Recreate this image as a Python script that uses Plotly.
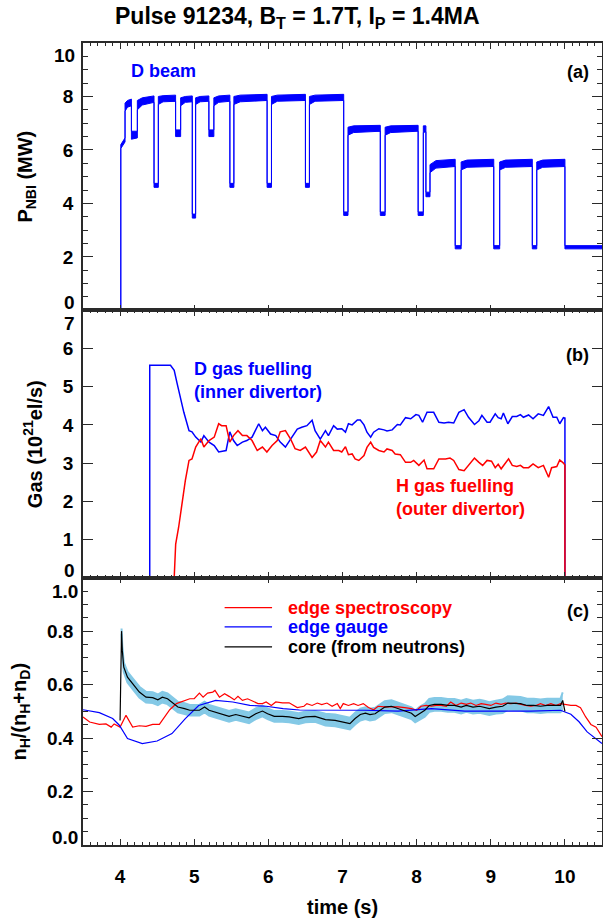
import plotly.graph_objects as go
from plotly.subplots import make_subplots

# ---------------- data ----------------
# Panel (a): D beam power (MW); fast ripple shown as lower/upper envelope
t_beam = [3.5, 4.01, 4.01, 4.06, 4.067, 4.067, 4.10, 4.153, 4.153, 4.233,
          4.233, 4.30, 4.458, 4.458, 4.516, 4.516, 4.58, 4.749, 4.749, 4.817,
          4.817, 4.88, 4.974, 4.974, 5.019, 5.019, 5.08, 5.198, 5.198, 5.265,
          5.265, 5.33, 5.481, 5.481, 5.535, 5.535, 5.62, 5.983, 5.983, 6.042,
          6.042, 6.12, 6.50, 6.50, 6.554, 6.554, 6.63, 7.016, 7.016, 7.074,
          7.074, 7.15, 7.51, 7.51, 7.575, 7.575, 7.65, 8.02, 8.02, 8.09,
          8.09, 8.125, 8.125, 8.18, 8.18, 8.26, 8.52, 8.52, 8.60, 8.60,
          8.68, 9.04, 9.04, 9.12, 9.12, 9.20, 9.56, 9.56, 9.62, 9.62,
          9.70, 10.0, 10.0, 10.5]
beam_lo = [0, 0, 6.05, 6.25, 6.30, 7.45, 7.60, 7.65, 6.40, 6.45,
           7.50, 7.68, 7.78, 4.60, 4.60, 7.70, 7.80, 7.82, 6.50, 6.50,
           7.65, 7.78, 7.80, 3.45, 3.45, 7.70, 7.80, 7.82, 6.50, 6.50,
           7.65, 7.78, 7.82, 4.60, 4.60, 7.70, 7.80, 7.85, 4.60, 4.60,
           7.70, 7.82, 7.85, 4.60, 4.60, 7.70, 7.82, 7.85, 3.55, 3.55,
           6.55, 6.65, 6.70, 3.55, 3.55, 6.55, 6.65, 6.70, 3.55, 3.55,
           6.65, 6.68, 4.25, 4.25, 5.15, 5.32, 5.38, 2.30, 2.30, 5.25,
           5.35, 5.38, 2.30, 2.30, 5.25, 5.35, 5.38, 2.30, 2.30, 5.25,
           5.35, 5.38, 2.30, 2.30]
beam_hi = [0, 0, 6.20, 6.45, 6.45, 7.75, 7.85, 7.90, 6.70, 6.70,
           7.85, 7.95, 8.02, 4.75, 4.75, 8.00, 8.03, 8.05, 6.75, 6.75,
           7.95, 8.00, 8.02, 3.60, 3.60, 7.95, 8.00, 8.02, 6.75, 6.75,
           7.95, 8.02, 8.05, 4.75, 4.75, 8.00, 8.05, 8.08, 4.75, 4.75,
           8.00, 8.05, 8.08, 4.75, 4.75, 8.00, 8.05, 8.08, 3.68, 3.68,
           6.85, 6.90, 6.92, 3.68, 3.68, 6.85, 6.90, 6.92, 3.68, 3.68,
           6.90, 6.90, 4.42, 4.42, 5.45, 5.60, 5.65, 2.42, 2.42, 5.55,
           5.62, 5.65, 2.42, 2.42, 5.55, 5.62, 5.65, 2.42, 2.42, 5.55,
           5.62, 5.65, 2.42, 2.42]

# Panel (b): gas fuelling (1e21 el/s)
t_gasD = [4.40, 4.40, 4.68, 4.73, 4.77, 4.82, 4.86, 4.93, 4.97, 5.02,
          5.09, 5.13, 5.20, 5.27, 5.33, 5.43, 5.48, 5.53, 5.58, 5.65,
          5.71, 5.78, 5.87, 5.92, 5.96, 6.03, 6.10, 6.16, 6.23, 6.30,
          6.39, 6.45, 6.52, 6.59, 6.63, 6.70, 6.77, 6.81, 6.88, 6.93,
          6.99, 7.04, 7.08, 7.13, 7.20, 7.24, 7.29, 7.33, 7.38, 7.42,
          7.49, 7.56, 7.60, 7.67, 7.74, 7.78, 7.85, 7.92, 7.99, 8.03,
          8.08, 8.14, 8.23, 8.30, 8.37, 8.43, 8.50, 8.57, 8.64, 8.70,
          8.78, 8.84, 8.88, 8.95, 8.99, 9.06, 9.10, 9.14, 9.17, 9.23,
          9.29, 9.35, 9.40, 9.44, 9.51, 9.57, 9.64, 9.71, 9.78, 9.84,
          9.89, 9.93, 9.98, 10.0, 10.0]
gasD = [0, 5.56, 5.56, 5.43, 5.08, 4.64, 4.33, 3.85, 3.82, 3.68,
        3.55, 3.72, 3.55, 3.46, 3.29, 3.33, 3.82, 3.59, 3.46, 3.55,
        3.59, 3.68, 4.03, 3.85, 3.94, 3.76, 3.72, 3.55, 3.42, 3.63,
        3.89, 3.94, 3.98, 4.12, 3.85, 3.63, 3.85, 3.72, 3.98, 3.89,
        3.90, 3.81, 4.03, 4.00, 4.13, 4.13, 4.00, 3.81, 3.68, 3.81,
        3.90, 3.87, 3.84, 3.87, 4.01, 4.00, 4.19, 4.16, 4.27, 4.25,
        4.07, 4.33, 4.33, 4.07, 4.05, 4.07, 4.05, 4.33, 4.40, 4.20,
        4.01, 4.11, 4.25, 4.07, 4.07, 4.29, 4.19, 4.16, 4.31, 4.03,
        4.22, 4.22, 4.27, 4.20, 4.26, 4.16, 4.29, 4.25, 4.48, 4.20,
        4.20, 4.03, 4.19, 4.18, 0]
t_gasH = [4.73, 4.75, 4.79, 4.84, 4.88, 4.93, 4.97, 5.02, 5.09, 5.13,
          5.20, 5.27, 5.33, 5.37, 5.43, 5.48, 5.53, 5.59, 5.65, 5.71,
          5.78, 5.85, 5.92, 5.98, 6.05, 6.12, 6.16, 6.23, 6.30, 6.36,
          6.43, 6.50, 6.59, 6.65, 6.70, 6.77, 6.81, 6.88, 6.95, 6.99,
          7.04, 7.08, 7.13, 7.17, 7.22, 7.29, 7.33, 7.38, 7.42, 7.49,
          7.56, 7.60, 7.67, 7.71, 7.78, 7.85, 7.92, 7.96, 8.03, 8.10,
          8.14, 8.23, 8.30, 8.39, 8.45, 8.50, 8.57, 8.64, 8.70, 8.78,
          8.84, 8.89, 8.95, 9.01, 9.06, 9.10, 9.14, 9.19, 9.24, 9.29,
          9.35, 9.40, 9.44, 9.51, 9.57, 9.64, 9.71, 9.78, 9.82, 9.89,
          9.93, 9.98, 10.0, 10.0]
gasH = [0, 0.88, 1.32, 2.02, 2.54, 3.07, 3.11, 3.42, 3.64, 3.42,
        3.59, 3.68, 4.03, 3.98, 3.98, 3.55, 3.72, 3.85, 3.72, 3.72,
        3.59, 3.33, 3.42, 3.29, 3.46, 3.59, 3.82, 3.85, 3.63, 3.38,
        3.33, 3.42, 3.15, 3.29, 3.59, 3.42, 3.55, 3.33, 3.33, 3.29,
        3.43, 3.22, 3.24, 3.11, 3.07, 3.20, 3.41, 3.55, 3.41, 3.33,
        3.29, 3.37, 3.33, 3.24, 3.22, 3.02, 3.02, 3.07, 2.94, 3.08,
        2.85, 2.85, 3.11, 3.11, 3.13, 3.07, 2.83, 2.80, 2.94, 3.13,
        3.02, 2.94, 3.07, 3.05, 2.88, 2.97, 2.85, 2.98, 3.11, 2.94,
        2.91, 2.94, 2.88, 2.88, 2.98, 2.88, 2.94, 2.63, 2.88, 2.91,
        3.08, 3.00, 2.95, 0]

# Panel (c): isotope ratio nH/(nH+nD)
t_spec = [3.5, 3.59, 3.72, 3.81, 3.88, 3.92, 4.0, 4.08, 4.17, 4.26,
          4.35, 4.44, 4.53, 4.60, 4.67, 4.76, 4.85, 4.94, 5.0, 5.07,
          5.12, 5.18, 5.25, 5.28, 5.34, 5.41, 5.47, 5.54, 5.59, 5.65,
          5.72, 5.79, 5.86, 5.92, 5.97, 6.04, 6.10, 6.19, 6.28, 6.39,
          6.48, 6.52, 6.59, 6.66, 6.72, 6.79, 6.86, 6.93, 6.97, 7.01,
          7.08, 7.15, 7.21, 7.28, 7.35, 7.42, 7.48, 7.57, 7.66, 7.75,
          7.84, 7.93, 8.00, 8.06, 8.13, 8.20, 8.26, 8.33, 8.40, 8.46,
          8.53, 8.60, 8.67, 8.73, 8.80, 8.87, 8.93, 9.00, 9.07, 9.14,
          9.20, 9.27, 9.34, 9.40, 9.47, 9.54, 9.61, 9.67, 9.74, 9.81,
          9.88, 9.94, 10.01, 10.08, 10.15, 10.21, 10.28, 10.35, 10.42, 10.5]
spec = [0.479, 0.460, 0.451, 0.453, 0.441, 0.453, 0.441, 0.485, 0.441, 0.446,
        0.444, 0.451, 0.451, 0.479, 0.506, 0.529, 0.539, 0.547, 0.547, 0.568,
        0.553, 0.568, 0.572, 0.578, 0.553, 0.566, 0.556, 0.543, 0.556, 0.541,
        0.547, 0.539, 0.529, 0.529, 0.535, 0.522, 0.535, 0.532, 0.532, 0.514,
        0.519, 0.529, 0.522, 0.531, 0.525, 0.531, 0.519, 0.529, 0.510, 0.529,
        0.522, 0.529, 0.522, 0.529, 0.514, 0.506, 0.519, 0.517, 0.517, 0.517,
        0.514, 0.510, 0.504, 0.519, 0.522, 0.519, 0.522, 0.522, 0.519, 0.535,
        0.522, 0.531, 0.526, 0.531, 0.522, 0.529, 0.526, 0.522, 0.531, 0.526,
        0.531, 0.529, 0.531, 0.526, 0.522, 0.519, 0.522, 0.529, 0.522, 0.529,
        0.522, 0.529, 0.526, 0.522, 0.522, 0.514, 0.479, 0.451, 0.441, 0.405]
t_gauge = [3.5, 3.72, 3.90, 3.99, 4.10, 4.30, 4.50, 4.70, 4.88, 5.06,
           5.29, 5.52, 5.75, 5.97, 6.20, 6.42, 7.30, 7.75, 8.2, 8.65,
           9.1, 9.54, 9.94, 10.08, 10.19, 10.3, 10.5]
gauge = [0.506, 0.495, 0.473, 0.448, 0.398, 0.379, 0.389, 0.417, 0.473, 0.522,
         0.541, 0.535, 0.522, 0.519, 0.510, 0.505, 0.504, 0.501, 0.510, 0.501,
         0.501, 0.501, 0.504, 0.489, 0.461, 0.423, 0.380]
t_core = [4.0, 4.02, 4.03, 4.05, 4.10, 4.17, 4.26, 4.35, 4.44, 4.51,
          4.57, 4.64, 4.71, 4.78, 4.87, 4.94, 5.07, 5.14, 5.20, 5.29,
          5.38, 5.47, 5.56, 5.65, 5.74, 5.83, 5.92, 5.99, 6.08, 6.19,
          6.28, 6.41, 6.50, 6.63, 6.77, 6.90, 6.99, 7.10, 7.17, 7.24,
          7.31, 7.37, 7.44, 7.51, 7.57, 7.66, 7.75, 7.84, 7.93, 7.98,
          8.04, 8.11, 8.17, 8.24, 8.33, 8.42, 8.51, 8.60, 8.67, 8.76,
          8.85, 8.91, 8.98, 9.07, 9.16, 9.23, 9.31, 9.40, 9.49, 9.58,
          9.67, 9.76, 9.85, 9.94, 9.97, 10.0]
core = [0.466, 0.800, 0.728, 0.665, 0.628, 0.603, 0.572, 0.553, 0.551, 0.543,
        0.553, 0.547, 0.531, 0.516, 0.510, 0.504, 0.504, 0.516, 0.504, 0.497,
        0.488, 0.481, 0.488, 0.481, 0.476, 0.491, 0.501, 0.491, 0.481, 0.481,
        0.479, 0.473, 0.479, 0.481, 0.469, 0.466, 0.461, 0.454, 0.473, 0.488,
        0.493, 0.488, 0.491, 0.504, 0.516, 0.519, 0.510, 0.504, 0.493, 0.481,
        0.493, 0.504, 0.522, 0.526, 0.526, 0.522, 0.522, 0.516, 0.522, 0.516,
        0.519, 0.516, 0.510, 0.516, 0.519, 0.531, 0.531, 0.529, 0.522, 0.522,
        0.519, 0.522, 0.522, 0.522, 0.541, 0.500]
core_err = [0.0, 0.010, 0.015, 0.018, 0.020, 0.020, 0.020, 0.020, 0.020, 0.020,
            0.020, 0.020, 0.020, 0.020, 0.020, 0.020, 0.020, 0.020, 0.020, 0.020,
            0.020, 0.020, 0.020, 0.020, 0.020, 0.020, 0.020, 0.020, 0.020, 0.020,
            0.020, 0.020, 0.020, 0.020, 0.022, 0.022, 0.022, 0.022, 0.022, 0.022,
            0.022, 0.022, 0.022, 0.022, 0.022, 0.022, 0.022, 0.022, 0.022, 0.022,
            0.024, 0.024, 0.024, 0.024, 0.024, 0.024, 0.024, 0.024, 0.024, 0.024,
            0.024, 0.024, 0.024, 0.024, 0.025, 0.025, 0.025, 0.025, 0.025, 0.025,
            0.025, 0.025, 0.025, 0.025, 0.030, 0.0]

x_ticks = [4, 5, 6, 7, 8, 9, 10]
ya_ticks = [2, 4, 6, 8]
yb_ticks = [1, 2, 3, 4, 5, 6]
yc_ticks = [0.2, 0.4, 0.6, 0.8]

# ---------------- figure ----------------
FONT = "Liberation Sans, Arial, Helvetica, sans-serif"
BLUE = "#0000FF"
RED = "#FF0000"
BAND = "#84C9E6"
FRAME = "#2a2a2a"

fig = make_subplots(rows=3, cols=1, vertical_spacing=0)

# (a) beam envelope
fig.add_trace(go.Scatter(x=t_beam, y=beam_lo, mode="lines",
                         line=dict(color=BLUE, width=1), showlegend=False), row=1, col=1)
fig.add_trace(go.Scatter(x=t_beam, y=beam_hi, mode="lines", fill="tonexty",
                         fillcolor=BLUE, line=dict(color=BLUE, width=1),
                         showlegend=False), row=1, col=1)

# (b) gas
fig.add_trace(go.Scatter(x=t_gasD, y=gasD, mode="lines",
                         line=dict(color=BLUE, width=1.5), showlegend=False), row=2, col=1)
fig.add_trace(go.Scatter(x=t_gasH, y=gasH, mode="lines",
                         line=dict(color=RED, width=1.5), showlegend=False), row=2, col=1)

# (c) uncertainty band of core ratio
band_t = t_core[1:-1]
band_lo = [c - e for c, e in zip(core[1:-1], core_err[1:-1])]
band_hi = [c + e for c, e in zip(core[1:-1], core_err[1:-1])]
fig.add_trace(go.Scatter(x=band_t, y=band_lo, mode="lines",
                         line=dict(color=BAND, width=2), showlegend=False), row=3, col=1)
fig.add_trace(go.Scatter(x=band_t, y=band_hi, mode="lines", fill="tonexty",
                         fillcolor=BAND, line=dict(color=BAND, width=2),
                         showlegend=False), row=3, col=1)
fig.add_trace(go.Scatter(x=t_spec, y=spec, mode="lines",
                         line=dict(color=RED, width=1.2), showlegend=False), row=3, col=1)
fig.add_trace(go.Scatter(x=t_gauge, y=gauge, mode="lines",
                         line=dict(color=BLUE, width=1.2), showlegend=False), row=3, col=1)
fig.add_trace(go.Scatter(x=t_core, y=core, mode="lines",
                         line=dict(color="black", width=1.2), showlegend=False), row=3, col=1)

tickfont = dict(family=FONT, size=19, color="black", weight="bold")

xcommon = dict(range=[3.5, 10.5], tickmode="array", tickvals=x_ticks,
               ticks="inside", ticklen=6, tickwidth=1.2, tickcolor=FRAME,
               showline=True, linecolor=FRAME, linewidth=1.5, mirror="allticks",
               showgrid=False, zeroline=False, automargin=False,
               minor=dict(tickmode="linear", tick0=3.5, dtick=0.1, ticks="inside",
                          ticklen=3, tickwidth=1, tickcolor=FRAME, showgrid=False),
               tickfont=tickfont)
fig.update_xaxes(**xcommon)
fig.update_xaxes(showticklabels=False, row=1, col=1)
fig.update_xaxes(showticklabels=False, row=2, col=1)
fig.update_xaxes(showticklabels=True, ticklabelstandoff=13, row=3, col=1)

ycommon = dict(ticks="inside", ticklen=10, tickwidth=1.2, tickcolor=FRAME,
               showline=True, linecolor=FRAME, linewidth=1.5, mirror="allticks",
               showgrid=False, zeroline=False, tickfont=tickfont, automargin=False,
               ticklabelstandoff=4)
fig.update_yaxes(**ycommon)
fig.update_yaxes(range=[0, 10], tickmode="array", tickvals=ya_ticks,
                 minor=dict(tickmode="linear", tick0=0, dtick=0.5, ticks="inside",
                            ticklen=5, tickwidth=1, tickcolor=FRAME, showgrid=False),
                 row=1, col=1)
fig.update_yaxes(range=[0, 7], tickmode="array", tickvals=yb_ticks, row=2, col=1)
fig.update_yaxes(range=[0, 1.0], tickmode="array", tickvals=yc_ticks,
                 ticktext=["%.1f" % v for v in yc_ticks],
                 minor=dict(tickmode="linear", tick0=0, dtick=0.05, ticks="inside",
                            ticklen=5, tickwidth=1, tickcolor=FRAME, showgrid=False),
                 row=3, col=1)

H = 1.0 / 3.0
fig.update_layout(
    width=603, height=921,
    margin=dict(l=83, r=1, t=43, b=76, pad=0),
    paper_bgcolor="white", plot_bgcolor="white",
    font=dict(family=FONT, color="black"),
    yaxis=dict(domain=[2 * H, 1.0]),
    yaxis2=dict(domain=[H, 2 * H]),
    yaxis3=dict(domain=[0.0, H]),
)

ann = []
def text(x, y, s, xref, yref, size=18, color="black", xanchor="center",
         yanchor="middle", angle=0, xshift=0, yshift=0, align="left"):
    ann.append(dict(x=x, y=y, xref=xref, yref=yref, text=s, showarrow=False,
                    font=dict(family=FONT, size=size, color=color, weight="bold"),
                    xanchor=xanchor, yanchor=yanchor, textangle=angle,
                    xshift=xshift, yshift=yshift, align=align))

# edge tick labels (shifted inward like the original)
text(0, 10, "10", "x domain", "y", size=19, xanchor="right", xshift=-6, yshift=-12)
text(0, 0, "0", "x domain", "y", size=19, xanchor="right", xshift=-6, yshift=8)
text(0, 7, "7", "x2 domain", "y2", size=19, xanchor="right", xshift=-6, yshift=-13)
text(0, 0, "0", "x2 domain", "y2", size=19, xanchor="right", xshift=-6, yshift=7)
text(0, 1.0, "1.0", "x3 domain", "y3", size=19, xanchor="right", xshift=-3, yshift=-14)
text(0, 0.0, "0.0", "x3 domain", "y3", size=19, xanchor="right", xshift=-3, yshift=7)

# title and axis titles
text(0.413, 1.0312, "Pulse 91234, B<sub>T</sub> = 1.7T, I<sub>P</sub> = 1.4MA",
     "paper", "paper", size=23)
text(0.5, -0.0773, "time (s)", "paper", "paper", size=20)
text(-0.108, 0.5, "P<sub>NBI</sub> (MW)", "paper", "y domain", size=20, angle=-90)
text(-0.098, 0.5, "Gas (10<sup>21</sup>el/s)", "paper", "y2 domain", size=20, angle=-90)
text(-0.121, 0.5, "n<sub>H</sub>/(n<sub>H</sub>+n<sub>D</sub>)", "paper", "y3 domain",
     size=20, angle=-90)

# in-panel labels
text(4.12, 8.95, "D beam", "x", "y", color=BLUE, xanchor="left")
text(10.35, 8.91, "(a)", "x", "y", xanchor="right")
text(10.35, 5.82, "(b)", "x2", "y2", xanchor="right")
text(10.35, 0.877, "(c)", "x3", "y3", xanchor="right")
text(4.97, 5.17, "D gas fuelling<br>(inner divertor)", "x2", "y2", color=BLUE, xanchor="left")
text(7.69, 2.10, "H gas fuelling<br>(outer divertor)", "x2", "y2", color=RED, xanchor="left")

# legend of panel (c)
leg = [("edge spectroscopy", RED, 0.888),
       ("edge gauge", BLUE, 0.8157),
       ("core (from neutrons)", "black", 0.741)]
for label, col, yv in leg:
    fig.add_shape(type="line", x0=5.41, x1=6.05, y0=yv, y1=yv, xref="x3", yref="y3",
                  line=dict(color=col, width=1.2))
    text(6.235, yv, label, "x3", "y3", color=col, xanchor="left")

fig.update_layout(annotations=ann)
fig.write_html("out.html", config={"displayModeBar": False},
               post_script="document.body.style.margin='0px';"
                           "document.body.style.overflow='hidden';")
